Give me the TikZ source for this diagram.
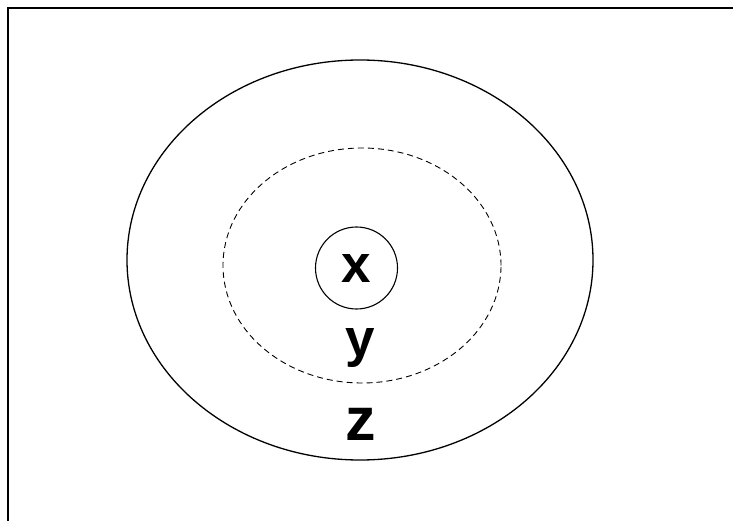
\documentclass[tikz,border=0pt]{standalone}
\usepackage{fontspec}
\setmainfont{Liberation Sans}
\usetikzlibrary{shapes.geometric}
\tikzset{
  kulso/.style={ellipse,draw,line width=1.3pt,minimum width=466pt,minimum height=400pt,inner sep=0pt},
  szagg/.style={ellipse,draw,line width=0.9pt,dash pattern=on 6pt off 4pt,
    minimum width=278pt,minimum height=235pt,inner sep=0pt},
  belso/.style={circle,draw,line width=1.1pt,minimum size=82pt,inner sep=0pt},
  betu/.style={font=\fontsize{53}{53}\selectfont\bfseries},
  nagybetu/.style={font=\fontsize{61}{61}\selectfont\bfseries},
  keret/.style={line width=1.8pt},
}
\begin{document}
\begin{tikzpicture}[x=1pt,y=-1pt]
  \useasboundingbox (0,0) rectangle (733,521);
  \draw[keret] (8,521) -- (8,8) -- (733,8);
  % halmazok
  \node[kulso] (zhalmaz) at (360,260) {};
  \node[szagg] (yhalmaz) at (362,265.5) {};
  \node[belso,betu] (x) at (356.5,268) {x};
  \node[betu] (y) at (360.5,347.5) {y};
  \node[nagybetu] (z) at (361,424) {z};
\end{tikzpicture}
\end{document}
